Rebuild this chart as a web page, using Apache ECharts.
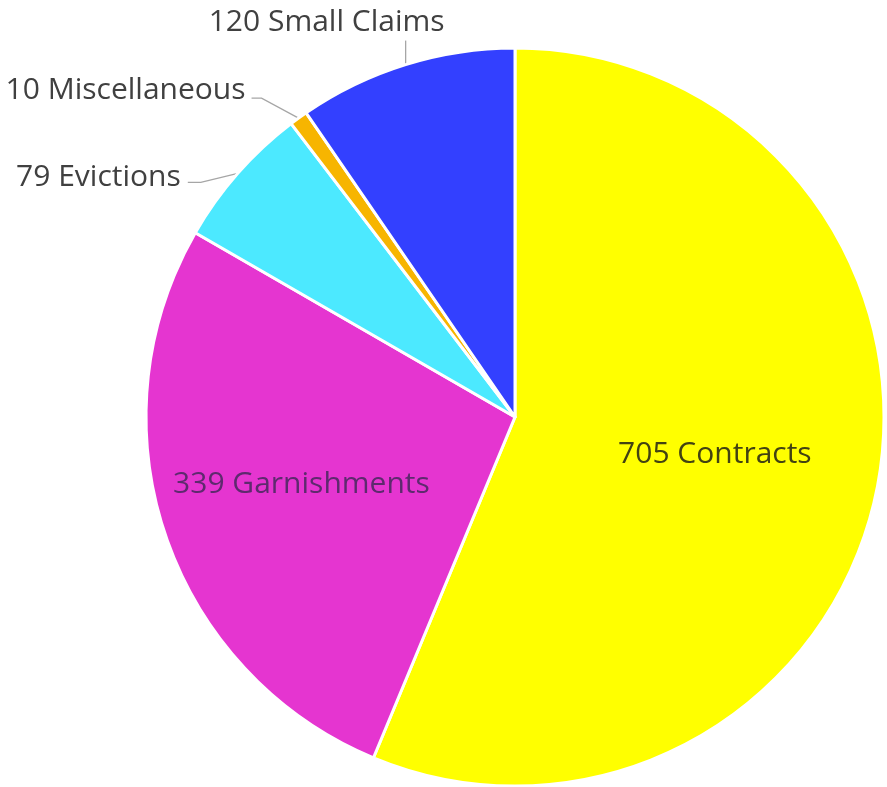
<!DOCTYPE html>
<html><head><meta charset="utf-8">
<script src="https://cdn.jsdelivr.net/npm/echarts@6/dist/echarts.min.js"></script>
<style>html,body{margin:0;padding:0;background:#fff}#c{width:887px;height:787px}</style>
</head><body><div id="c"></div>
<script>
const categories = ['Contracts', 'Garnishments', 'Evictions', 'Miscellaneous', 'Small Claims'];
const values = [705, 339, 79, 10, 120];
const colors = ['#FFFF00', '#E535D0', '#4CE9FF', '#F7B500', '#3340FF'];

const CX = 515, CY = 417, R = 369;
// label placement styling (offsets relative to slice edge anchor or default position)
const labelStyle = [
  { inside: true, dx: 16, dy: 1 },
  { inside: true, dx: -36, dy: 7 },
  { inside: false, line: [[-37, 9], [-50, 9]], text: [-57, 4], align: 'right' },
  { inside: false, line: [[-37, -20], [-47, -20]], text: [-53, -28], align: 'right' },
  { inside: false, line: [[0, -24]], text: [-79, -42], align: 'center' }
];

const total = values.reduce((a, b) => a + b, 0);
const anchors = [];
let acc = 0;
values.forEach(v => {
  const mid = (acc + v / 2) / total * Math.PI * 2;
  anchors.push([CX + R * Math.sin(mid), CY - R * Math.cos(mid)]);
  acc += v;
});

const chart = echarts.init(document.getElementById('c'));
const data = categories.map((n, i) => {
  const inside = labelStyle[i].inside;
  return {
    name: n, value: values[i],
    itemStyle: { color: colors[i] },
    label: inside ? { position: 'inside', color: i === 1 ? '#5e2a6e' : '#424212' } : { position: 'outside', color: '#404040' },
    labelLine: { show: !inside }
  };
});
chart.setOption({
  animation: false,
  series: [{
    type: 'pie',
    center: [CX, CY],
    radius: [0, R],
    startAngle: 90,
    clockwise: true,
    avoidLabelOverlap: false,
    itemStyle: { borderColor: '#fff', borderWidth: 3 },
    label: {
      formatter: p => p.value + ' ' + p.name,
      fontFamily: 'Open Sans',
      fontSize: 30,
      color: '#404040'
    },
    labelLine: { length: 12, length2: 8, lineStyle: { color: '#A6A6A6', width: 1.3 } },
    labelLayout: function (p) {
      const s = labelStyle[p.dataIndex];
      if (s.inside) return { dx: s.dx, dy: s.dy };
      const a = anchors[p.dataIndex];
      const pts = [a.slice()].concat(s.line.map(o => [a[0] + o[0], a[1] + o[1]]));
      return {
        x: a[0] + s.text[0], y: a[1] + s.text[1],
        align: s.align, verticalAlign: 'middle',
        labelLinePoints: pts
      };
    },
    data: data
  }]
});
</script></body></html>
